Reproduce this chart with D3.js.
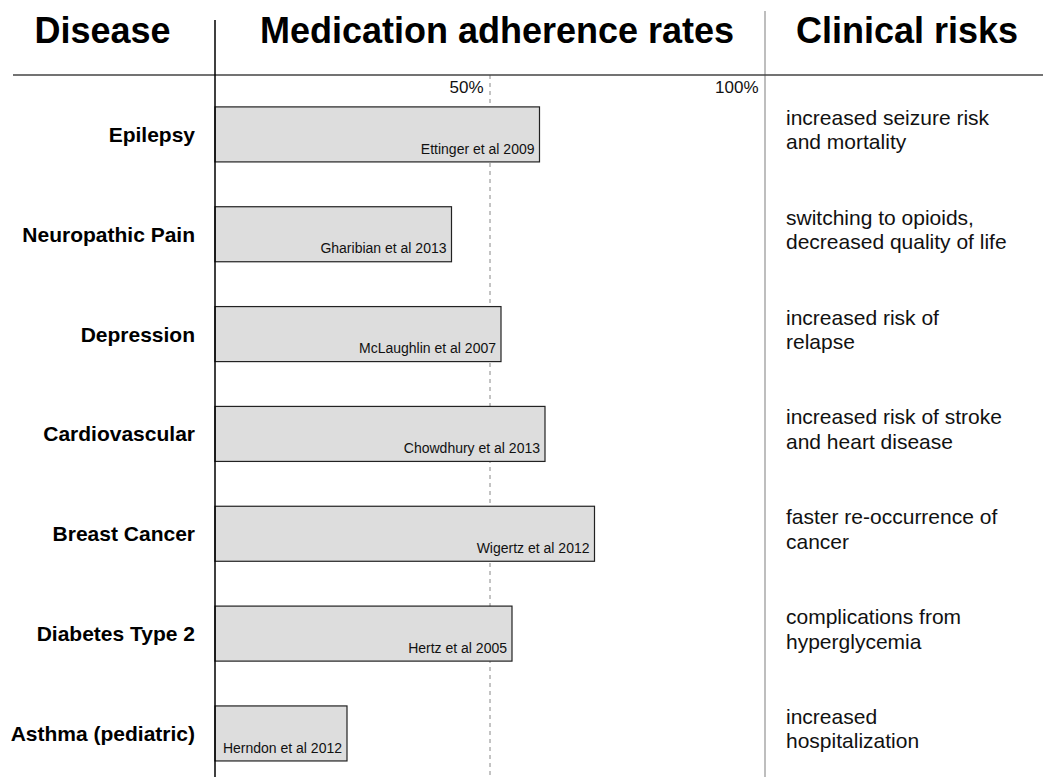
<!DOCTYPE html>
<html>
<head>
<meta charset="utf-8">
<script src="https://cdnjs.cloudflare.com/ajax/libs/d3/7.8.5/d3.min.js"></script>
<style>
  html, body { margin: 0; padding: 0; background: #fff; }
  svg { display: block; font-family: "Liberation Sans", Arial, Helvetica, sans-serif; }
</style>
</head>
<body>
<svg id="chart" width="1055" height="777"></svg>
<script>
const diseases = ["Epilepsy", "Neuropathic Pain", "Depression", "Cardiovascular", "Breast Cancer", "Diabetes Type 2", "Asthma (pediatric)"];
const adherence = [59, 43, 52, 60, 69, 54, 24];
const citations = ["Ettinger et al 2009", "Gharibian et al 2013", "McLaughlin et al 2007", "Chowdhury et al 2013", "Wigertz et al 2012", "Hertz et al 2005", "Herndon et al 2012"];
const risksLine1 = ["increased seizure risk", "switching to opioids,", "increased risk of", "increased risk of stroke", "faster re-occurrence of", "complications from", "increased"];
const risksLine2 = ["and mortality", "decreased quality of life", "relapse", "and heart disease", "cancer", "hyperglycemia", "hospitalization"];
const headers = ["Disease", "Medication adherence rates", "Clinical risks"];
const tickValues = [50, 100];

const svg = d3.select("#chart");

const x = d3.scaleLinear().domain([0, 100]).range([215, 765]);
const step = 99.84, inner = 0.449;
const y = d3.scaleBand().domain(diseases)
  .range([106.9, 106.9 + step * (diseases.length - inner)])
  .paddingInner(inner).paddingOuter(0);

// headers
const headerX = [102.5, 497, 907];
svg.selectAll("text.header").data(headers).join("text")
  .attr("class", "header")
  .attr("x", (d, i) => headerX[i]).attr("y", 43)
  .attr("text-anchor", "middle")
  .attr("font-size", 36).attr("font-weight", "bold").attr("fill", "#000")
  .text(d => d);

// 50% dashed grid line
svg.append("line")
  .attr("x1", x(50)).attr("x2", x(50)).attr("y1", 75).attr("y2", 777)
  .attr("stroke", "#888").attr("stroke-width", 1).attr("stroke-dasharray", "4,4");

// column divider at 100%
svg.append("line")
  .attr("x1", x(100)).attr("x2", x(100)).attr("y1", 11).attr("y2", 777)
  .attr("stroke", "#a8a8a8").attr("stroke-width", 1.5);

// horizontal header rule
svg.append("line")
  .attr("x1", 13).attr("x2", 1043).attr("y1", 75).attr("y2", 75)
  .attr("stroke", "#444").attr("stroke-width", 1.5);

// tick labels via axis
const axis = d3.axisTop(x).tickValues(tickValues).tickFormat(d => d + "%").tickSize(0).tickPadding(0);
const ag = svg.append("g").attr("transform", "translate(0,93)").call(axis);
ag.select(".domain").remove();
ag.selectAll("text")
  .attr("font-size", 17).attr("font-family", "Liberation Sans, Arial, sans-serif")
  .attr("fill", "#111").attr("text-anchor", "end").attr("dx", -7).attr("dy", 0).attr("y", 0);

// bars
svg.selectAll("rect.bar").data(diseases).join("rect")
  .attr("class", "bar")
  .attr("x", x(0)).attr("y", d => y(d))
  .attr("width", (d, i) => x(adherence[i]) - x(0))
  .attr("height", y.bandwidth())
  .attr("fill", "#dddddd").attr("stroke", "#222").attr("stroke-width", 1.2);

// citations
svg.selectAll("text.cite").data(diseases).join("text")
  .attr("class", "cite")
  .attr("x", (d, i) => x(adherence[i]) - 5)
  .attr("y", d => y(d) + y.bandwidth() - 8.4)
  .attr("text-anchor", "end").attr("font-size", 14).attr("fill", "#111")
  .text((d, i) => citations[i]);

// left axis line
svg.append("line")
  .attr("x1", x(0)).attr("x2", x(0)).attr("y1", 20).attr("y2", 777)
  .attr("stroke", "#000").attr("stroke-width", 1.5);

// disease labels
svg.selectAll("text.disease").data(diseases).join("text")
  .attr("class", "disease")
  .attr("x", 195).attr("y", d => y(d) + y.bandwidth() / 2 + 7.5)
  .attr("text-anchor", "end").attr("font-size", 21).attr("font-weight", "bold").attr("fill", "#000")
  .text(d => d);

// risks
const rg = svg.selectAll("text.risk").data(diseases).join("text")
  .attr("class", "risk")
  .attr("x", 786).attr("y", d => y(d) + 18)
  .attr("font-size", 21).attr("fill", "#111");
rg.append("tspan").attr("x", 786).text((d, i) => risksLine1[i]);
rg.append("tspan").attr("x", 786).attr("dy", 24.5).text((d, i) => risksLine2[i]);
</script>
</body>
</html>
